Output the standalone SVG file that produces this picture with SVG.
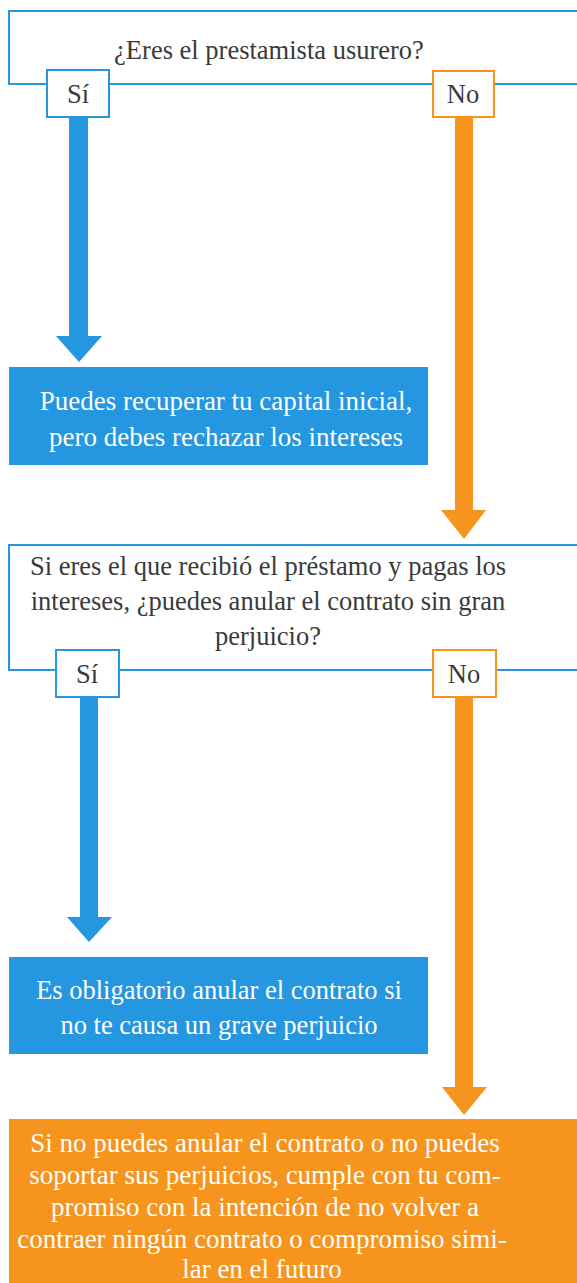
<svg xmlns="http://www.w3.org/2000/svg" width="577" height="1283" viewBox="0 0 577 1283">
<rect width="577" height="1283" fill="#fff"/>
<g id="connectors">
<path d="M69 117 H88 V336 H102 L79 362 L56 336 H69 Z" fill="#2596e0"/>
<path d="M455 117 H473 V510 H486 L464 539 L441 510 H455 Z" fill="#f7941d"/>
<path d="M80 697 H98 V917 H112 L89 942 L67 917 H80 Z" fill="#2596e0"/>
<path d="M455 697 H473 V1087 H487 L464 1115 L442 1087 H455 Z" fill="#f7941d"/>
</g>
<g id="q1">
<path d="M600 11 H9 V84 H600" fill="none" stroke="#2596e0" stroke-width="2"/>
<text font-family="Liberation Serif, Times New Roman, serif" font-size="26.5" text-anchor="middle" fill="#3a3a3a" x="269" y="59">¿Eres el prestamista usurero?</text>
</g>
<g id="q1-si">
<rect x="47" y="70" width="62" height="47" fill="#fff" stroke="#2596e0" stroke-width="2"/>
<text font-family="Liberation Serif, Times New Roman, serif" font-size="26.5" text-anchor="middle" fill="#3a3a3a" x="78" y="103">Sí</text>
</g>
<g id="q1-no">
<rect x="433" y="71" width="61" height="46" fill="#fff" stroke="#f7941d" stroke-width="2"/>
<text font-family="Liberation Serif, Times New Roman, serif" font-size="26.5" text-anchor="middle" fill="#3a3a3a" x="463" y="103">No</text>
</g>
<g id="r1">
<rect x="9" y="367" width="419" height="98" fill="#2596e0"/>
<text font-family="Liberation Serif, Times New Roman, serif" font-size="27" text-anchor="middle" fill="#fff" x="226" y="410">Puedes recuperar tu capital inicial,</text>
<text font-family="Liberation Serif, Times New Roman, serif" font-size="27" text-anchor="middle" fill="#fff" x="226" y="446">pero debes rechazar los intereses</text>
</g>
<g id="q2">
<path d="M600 545 H9 V670 H600" fill="none" stroke="#2596e0" stroke-width="2"/>
<text font-family="Liberation Serif, Times New Roman, serif" font-size="26.5" text-anchor="middle" fill="#3a3a3a" x="268" y="575">Si eres el que recibió el préstamo y pagas los</text>
<text font-family="Liberation Serif, Times New Roman, serif" font-size="26.5" text-anchor="middle" fill="#3a3a3a" x="268" y="610">intereses, ¿puedes anular el contrato sin gran</text>
<text font-family="Liberation Serif, Times New Roman, serif" font-size="26.5" text-anchor="middle" fill="#3a3a3a" x="268" y="645">perjuicio?</text>
</g>
<g id="q2-si">
<rect x="56" y="650" width="63" height="47" fill="#fff" stroke="#2596e0" stroke-width="2"/>
<text font-family="Liberation Serif, Times New Roman, serif" font-size="26.5" text-anchor="middle" fill="#3a3a3a" x="87" y="683">Sí</text>
</g>
<g id="q2-no">
<rect x="433" y="650" width="63" height="47" fill="#fff" stroke="#f7941d" stroke-width="2"/>
<text font-family="Liberation Serif, Times New Roman, serif" font-size="26.5" text-anchor="middle" fill="#3a3a3a" x="464" y="683">No</text>
</g>
<g id="r2">
<rect x="9" y="957" width="419" height="97" fill="#2596e0"/>
<text font-family="Liberation Serif, Times New Roman, serif" font-size="26.5" text-anchor="middle" fill="#fff" x="219" y="999">Es obligatorio anular el contrato si</text>
<text font-family="Liberation Serif, Times New Roman, serif" font-size="26.5" text-anchor="middle" fill="#fff" x="219" y="1034">no te causa un grave perjuicio</text>
</g>
<g id="r3">
<rect x="9" y="1119" width="580" height="170" fill="#f7941d"/>
<text font-family="Liberation Serif, Times New Roman, serif" font-size="27" text-anchor="middle" fill="#fff" x="265" y="1152">Si no puedes anular el contrato o no puedes</text>
<text font-family="Liberation Serif, Times New Roman, serif" font-size="27" text-anchor="middle" fill="#fff" x="265" y="1184">soportar sus perjuicios, cumple con tu com-</text>
<text font-family="Liberation Serif, Times New Roman, serif" font-size="27" text-anchor="middle" fill="#fff" x="265" y="1216">promiso con la intención de no volver a</text>
<text font-family="Liberation Serif, Times New Roman, serif" font-size="27" text-anchor="middle" fill="#fff" x="262" y="1248">contraer ningún contrato o compromiso simi-</text>
<text font-family="Liberation Serif, Times New Roman, serif" font-size="27" text-anchor="middle" fill="#fff" x="262" y="1278">lar en el futuro</text>
</g>
</svg>
